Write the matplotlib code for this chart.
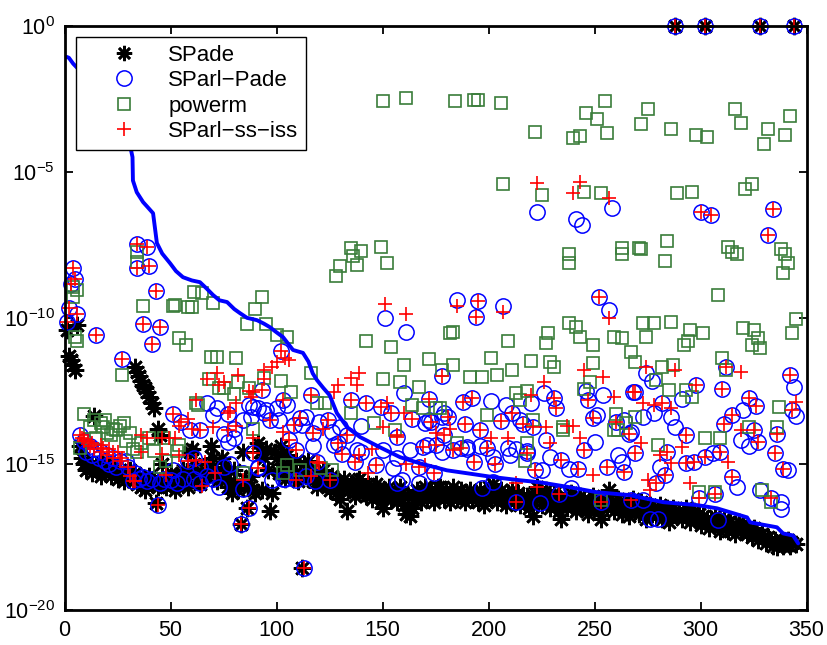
import numpy as np
import matplotlib
matplotlib.use("Agg")
import matplotlib.pyplot as plt
from matplotlib.ticker import NullLocator

plt.rcParams['font.family'] = ['Liberation Sans', 'DejaVu Sans']
plt.rcParams['mathtext.fontset'] = 'custom'
plt.rcParams['mathtext.rm'] = 'Liberation Sans'
plt.rcParams['mathtext.it'] = 'Liberation Sans:italic'
plt.rcParams['mathtext.default'] = 'regular'

# =========================
# DATA  (all values are log10 of the residual)
# =========================

# SPade, one value per index 1..345
spade_exp = [
    -10.4, -11.3, -11.45, -11.6, -11.8, -10.25, -14.4, -14.8, -15.0, -15.2,
    -14.9, -15.1, -15.3, -13.35, -15.0, -15.2, -15.4, -15.1, -15.3, -14.9,
    -15.2, -15.4, -15.0, -15.3, -15.5, -15.2, -15.4, -15.6, -15.3, -15.5,
    -15.2, -15.6, -15.3, -15.7, -15.4, -15.8, -15.5, -15.9, -15.6, -15.4,
    -15.7, -15.5, -16.35, -15.8, -14.0, -15.0, -15.6, -15.8, -15.5, -15.3,
    -15.6, -15.9, -15.4, -15.7, -15.5, -15.2, -15.6, -15.8, -14.6, -14.5,
    -15.0, -15.3, -15.6, -15.7, -15.4, -15.2, -15.4, -15.0, -14.4, -14.8,
    -15.3, -15.6, -15.4, -14.8, -15.1, -15.5, -15.8, -15.6, -16.0, -15.2,
    -15.7, -15.9, -17.07, -14.6, -15.5, -16.5, -15.8, -15.4, -15.9, -16.0,
    -14.3, -14.6, -15.9, -14.8, -14.5, -15.2, -16.6, -16.0, -14.6, -14.8,
    -15.3, -14.4, -15.0, -15.5, -14.7, -15.2, -15.0, -15.4, -14.9, -15.6,
    -15.3, -18.57, -15.0, -15.4, -14.9, -15.2, -15.6, -15.4, -15.8, -15.3,
    -15.6, -15.2, -15.7, -15.5, -15.9, -15.4, -15.8, -16.0, -15.6, -16.2,
    -15.8, -15.5, -16.6, -15.9, -15.7, -15.9, -16.1, -15.6, -15.5, -15.9,
    -16.0, -16.1, -15.7, -15.9, -16.2, -15.8, -15.7, -16.1, -16.3, -16.5,
    -15.9, -16.0, -15.8, -16.2, -16.1, -15.9, -16.3, -15.8, -16.0, -16.4,
    -16.7, -16.1, -16.8, -16.5, -16.2, -15.9, -16.0, -16.3, -16.1, -15.8,
    -16.2, -16.0, -15.9, -16.3, -16.1, -15.8, -15.8, -16.0, -16.2, -15.9,
    -16.1, -16.3, -15.8, -16.0, -16.2, -16.1, -15.9, -16.0, -16.3, -16.1,
    -15.9, -16.2, -16.0, -16.0, -16.3, -15.9, -16.1, -16.4, -16.0, -15.8,
    -16.2, -15.7, -16.0, -16.3, -16.1, -15.9, -16.2, -16.4, -16.0, -16.1,
    -15.9, -16.3, -16.2, -16.0, -16.4, -16.1, -16.3, -16.1, -16.5, -16.2,
    -16.8, -16.0, -15.8, -16.2, -16.4, -16.1, -15.9, -16.3, -16.5, -16.2,
    -16.0, -16.4, -16.6, -16.9, -16.3, -16.1, -16.5, -16.2, -16.0, -16.4,
    -16.6, -16.3, -16.1, -16.5, -16.2, -16.4, -16.7, -16.3, -16.1, -16.5,
    -16.3, -16.6, -16.9, -16.4, -16.2, -16.5, -15.9, -16.3, -16.6, -16.4,
    -16.2, -16.5, -16.7, -16.3, -16.4, -16.8, -16.5, -16.2, -16.6, -16.4,
    -16.7, -16.3, -16.5, -16.9, -16.6, -16.4, -16.7, -16.5, -16.8, -16.6,
    -16.4, -16.9, -16.6, -16.5, -17.0, -16.7, -16.5, 0.0, -16.8, -16.6,
    -16.9, -16.7, -16.5, -16.8, -17.0, -16.7, -16.6, -16.9, -16.7, -17.1,
    -16.8, 0.0, -16.9, -17.2, -16.9, -17.0, -16.8, -17.1, -17.3, -17.0,
    -16.9, -17.2, -17.3, -17.0, -17.1, -17.4, -17.2, -17.0, -17.3, -17.1,
    -17.2, -17.4, -17.3, -17.5, -17.2, -17.4, -17.6, 0.0, -17.4, -17.5,
    -17.7, -17.5, -17.6, -17.8, -17.6, -17.85, -17.7, -17.6, -17.8, -17.7,
    -17.6, -17.8, -17.7, 0.0, -17.75,
]

# second SPade branch (upper streak)
spade_streak = [(33, -11.7), (34, -11.85), (35, -12.0), (36, -12.15), (37, -12.3),
                (38, -12.4), (39, -12.55), (40, -12.7), (41, -12.9), (42, -13.1),
                (44, -13.8)]

# points where SParl-Pade and SParl-ss-iss coincide
shared_pts = [
    (288, 0), (302, 0), (328, 0), (344, 0),
    (1, -10.15), (2, -9.67), (3, -8.85), (4, -8.3), (5, -8.68), (6, -9.88),
    (15, -10.6), (27, -11.4), (34, -7.48), (39, -7.58), (34, -8.3), (40, -8.23),
    (43, -9.07), (37, -10.2), (45, -10.3), (41, -10.9),
    (44, -16.4), (83, -17.07), (87, -16.5), (113, -18.57),
    (7, -14.0), (9, -14.2), (12, -14.4), (14, -14.5), (17, -14.6), (20, -14.7),
    (23, -14.8), (26, -14.9), (30, -15.1), (32, -15.6), (51, -13.3), (55, -13.55),
    (64, -13.85), (89, -14.64), (91, -15.15),
    (102, -11.14), (178, -12.0), (93, -12.48), (103, -12.82), (116, -12.65),
    (97, -13.5), (108, -13.68), (111, -13.44), (135, -12.82), (142, -12.9),
    (149, -13.06), (154, -13.27), (172, -12.79), (164, -13.47), (173, -13.56),
    (117, -13.95), (124, -13.5), (133, -14.02), (129, -14.3), (131, -14.65),
    (106, -14.19), (109, -14.53), (109, -15.55), (125, -15.55), (119, -14.93),
    (137, -14.93), (147, -15.04), (174, -15.3), (167, -15.1), (157, -14.07),
    (169, -14.42), (175, -14.36), (183, -14.53), (213, -16.3),
    (195, -9.42), (194, -9.96), (252, -9.3), (300, -6.38), (305, -6.48),
    (334, -6.28), (332, -7.17),
    (188, -12.87), (192, -12.76), (181, -13.39), (189, -13.64), (196, -13.85),
    (206, -13.53), (211, -13.27), (216, -13.62), (221, -13.75), (231, -12.73),
    (232, -13.07), (247, -12.82), (249, -13.44), (260, -13.56), (268, -12.53),
    (266, -13.96), (179, -14.02), (187, -14.47), (199, -14.47), (203, -15.0),
    (193, -14.93), (218, -14.62), (222, -15.22), (234, -14.87), (242, -15.19),
    (245, -14.53), (256, -15.1), (264, -15.27), (233, -16.04), (253, -16.3),
    (267, -16.24),
    (312, -11.68), (342, -11.94), (269, -12.53), (298, -12.3), (310, -12.45),
    (323, -12.76), (326, -13.02), (315, -13.33), (311, -13.62), (343, -13.14),
    (282, -12.91), (293, -14.02), (325, -13.85), (327, -14.25), (336, -13.96),
    (269, -14.64), (284, -14.59), (283, -15.39), (279, -15.67), (293, -14.98),
    (297, -14.93), (302, -14.76), (309, -14.59), (315, -15.44), (335, -14.64),
    (339, -15.16), (299, -16.18), (307, -16.04), (333, -16.18),
]

# SParl-Pade only
pade_pts = [
    (223, -6.39), (241, -6.62), (244, -6.83), (258, -6.25), (151, -10.0),
    (161, -10.5), (185, -9.4), (207, -9.6), (257, -9.74),
    (10, -14.6), (13, -14.7), (16, -14.8), (19, -14.9), (21, -15.0), (24, -15.1),
    (29, -14.9), (33, -15.3), (35, -15.5), (37, -15.45), (39, -15.6), (41, -15.5),
    (45, -15.66), (47, -15.5), (50, -15.55), (51, -15.2), (53, -15.66), (56, -15.5),
    (58, -14.9), (61, -14.8), (61, -15.5), (64, -15.1), (64, -15.66), (67, -15.4),
    (70, -15.5), (73, -15.8), (75, -15.1), (78, -15.0), (80, -14.1), (84, -15.3),
    (84, -15.85), (91, -15.1), (98, -15.56),
    (59, -13.85), (67, -12.9), (70, -13.33), (72, -13.1), (77, -13.3), (84, -13.5),
    (80, -13.8), (89, -13.06), (88, -13.4), (75, -13.96), (77, -14.25), (87, -13.0),
    (91, -13.1), (95, -13.16), (100, -13.1), (105, -13.0), (101, -13.5),
    (114, -13.39), (94, -13.27), (112, -13.67), (120, -13.56),
    (160, -12.57), (170, -13.6), (178, -13.4), (126, -13.9), (130, -13.73),
    (140, -13.71), (104, -15.5), (114, -15.43), (118, -15.6), (140, -14.6),
    (155, -15.15), (159, -15.55), (167, -15.66), (150, -14.53), (163, -14.53),
    (178, -14.59), (117, -14.4), (127, -14.36), (138, -14.53), (157, -14.8),
    (157, -15.66), (171, -14.36), (190, -14.5), (196, -14.4), (202, -14.77),
    (213, -14.5), (218, -14.55), (103, -15.5), (197, -15.84), (172, -13.5),
    (179, -13.27), (215, -13.5),
    (201, -12.84), (208, -12.99), (220, -12.91), (226, -12.57), (246, -12.5),
    (254, -12.65), (251, -13.33), (264, -13.5), (190, -14.42), (209, -14.47),
    (210, -14.7), (225, -15.22), (227, -14.19), (229, -14.76), (238, -15.16),
    (250, -14.25), (261, -14.7), (263, -14.93), (202, -15.62), (224, -16.34),
    (239, -15.84),
    (344, -12.36), (274, -11.9), (277, -12.17), (320, -13.14), (345, -13.37),
    (273, -13.39), (278, -13.27), (286, -13.39), (288, -13.73), (291, -12.79),
    (319, -14.19), (323, -14.39), (267, -13.9), (281, -15.1), (306, -14.64),
    (317, -15.79), (341, -15.22), (328, -15.9), (338, -16.3), (338, -16.53),
    (276, -16.87), (280, -16.9), (308, -16.93), (273, -16.24),
]

# SParl-ss-iss only
iss_pts = [
    (223, -5.4), (240, -5.73), (243, -5.35), (257, -5.9), (151, -9.54),
    (161, -9.88), (185, -9.6), (207, -9.8), (257, -10.0),
    (8, -14.1), (9, -14.15), (11, -14.2), (13, -14.3), (17, -14.36), (18, -14.46),
    (21, -14.5), (23, -14.6), (25, -14.6), (27, -14.8), (31, -15.4), (33, -15.6),
    (36, -14.0), (39, -14.1), (46, -14.1), (49, -14.1), (52, -14.1), (36, -14.6),
    (46, -14.65), (54, -14.7), (48, -15.38), (58, -14.9), (62, -14.88),
    (66, -14.95), (65, -15.74), (71, -15.3), (84, -15.56),
    (67, -12.1), (72, -11.9), (82, -11.96), (75, -12.2), (87, -12.5), (62, -12.8),
    (81, -12.9), (77, -13.26), (73, -12.3), (88, -12.7), (54, -13.7), (58, -13.45),
    (60, -13.8), (70, -13.75), (77, -13.85), (81, -13.7), (78, -13.2), (89, -14.1),
    (94, -11.79), (100, -11.5), (104, -11.38), (106, -11.45), (98, -11.7),
    (139, -11.9), (135, -12.07), (138, -12.3), (129, -12.3), (127, -12.54),
    (89, -12.54), (94, -12.1), (152, -12.93), (160, -13.25), (150, -13.73),
    (157, -14.02), (175, -13.95), (122, -13.8), (103, -13.9), (120, -14.98),
    (116, -15.4), (143, -15.32), (139, -14.7), (170, -15.05), (145, -14.5),
    (161, -15.0), (182, -13.79),
    (226, -12.19), (245, -11.79), (254, -12.02), (259, -12.7), (220, -12.65),
    (227, -13.73), (237, -13.71), (240, -13.71), (243, -14.13), (229, -14.28),
    (249, -15.39), (223, -15.79), (213, -15.67), (201, -14.13), (209, -14.13),
    (288, -11.79), (319, -11.85), (274, -11.68), (273, -12.93), (278, -12.99),
    (286, -13.1), (345, -12.88), (319, -13.85), (272, -14.3), (281, -14.7),
    (291, -14.42), (286, -14.98), (313, -14.93), (275, -15.56), (295, -15.67),
    (276, -15.9),
]

# powerm
powerm_pts = [
    (150, -2.58), (161, -2.48), (184, -2.58), (193, -2.55), (195, -2.53),
    (206, -2.65), (222, -3.64), (240, -3.85), (243, -3.78), (246, -3.0),
    (251, -3.2), (255, -2.58), (256, -3.69), (272, -3.37), (275, -2.86),
    (286, -3.53), (298, -3.74), (303, -3.8), (316, -2.85), (319, -3.34),
    (330, -4.05), (332, -3.53), (340, -3.75), (342, -3.1),
    (207, -5.43), (225, -5.8), (245, -5.7), (253, -5.73), (289, -5.73),
    (296, -5.7), (321, -5.6), (324, -5.43),
    (135, -7.62), (140, -7.72), (136, -7.9), (149, -7.58), (130, -8.23),
    (138, -8.2), (128, -8.58), (152, -8.13), (238, -7.8), (238, -8.14),
    (263, -7.62), (263, -7.8), (271, -7.62), (272, -7.65), (284, -7.38),
    (283, -8.06), (313, -7.58), (315, -7.75), (317, -7.82), (338, -7.65),
    (340, -7.82), (341, -8.14), (339, -8.48), (308, -9.23), (345, -10.05),
    (343, -10.53),
    (34, -7.75), (34, -8.1), (4, -8.95), (6, -9.05), (4, -9.3), (5, -10.67),
    (6, -10.8), (37, -9.6), (51, -9.6), (52, -9.57), (58, -9.63), (61, -9.12),
    (65, -9.16), (70, -9.5), (60, -9.63), (54, -10.7), (57, -10.93), (69, -11.35),
    (72, -11.35), (81, -11.38), (27, -11.96), (93, -9.3), (90, -9.7), (86, -10.2),
    (95, -10.2), (100, -10.6), (105, -10.66),
    (142, -10.8), (154, -11.0), (183, -10.5), (172, -11.4), (160, -11.6),
    (150, -12.1), (158, -12.2), (167, -12.37), (183, -11.6), (116, -11.9),
    (94, -12.07), (102, -12.17), (68, -12.1), (73, -12.4), (82, -12.2),
    (75, -12.4), (63, -13.0), (107, -12.53), (87, -12.4), (119, -12.93),
    (123, -12.93), (164, -13.0), (169, -13.1), (175, -13.07), (89, -13.8),
    (135, -13.27), (146, -13.6), (156, -13.84), (105, -15.04), (111, -15.2),
    (126, -15.2), (121, -15.15), (103, -15.3), (62, -12.93), (80, -12.6),
    (9, -13.3), (14, -13.5), (19, -13.5), (28, -13.6), (24, -13.85), (31, -13.95),
    (20, -13.95), (12, -13.75), (18, -13.75), (7, -14.46), (34, -14.6),
    (42, -14.55), (47, -14.1), (53, -14.55), (45, -15.1), (17, -13.6),
    (23, -13.8), (36, -14.3), (32, -14.5), (48, -14.9), (54, -14.36),
    (84, -15.3), (26, -13.7), (22, -14.0), (29, -14.2), (40, -14.1), (15, -14.1),
    (182, -10.53), (209, -10.79), (201, -11.39), (220, -11.47), (228, -10.53),
    (227, -10.85), (238, -10.19), (241, -10.3), (243, -10.65), (249, -10.93),
    (259, -10.67), (263, -10.7), (267, -11.16), (249, -11.56), (229, -11.5),
    (231, -11.68), (211, -11.79), (204, -11.96), (197, -12.02), (191, -12.04),
    (178, -11.8), (213, -12.59), (218, -12.5), (215, -12.8), (199, -13.33),
    (221, -13.5), (177, -13.1), (185, -14.3), (235, -13.73), (245, -12.42),
    (260, -13.3), (259, -13.85), (218, -14.3), (217, -14.9), (235, -13.85),
    (265, -13.6), (261, -13.85), (248, -12.2),
    (273, -10.19), (278, -10.19), (286, -10.13), (295, -10.42), (301, -10.53),
    (294, -10.79), (292, -10.93), (274, -10.65), (320, -10.36), (325, -10.4),
    (324, -10.93), (328, -11.05), (327, -10.7), (269, -11.5), (282, -11.68),
    (287, -11.62), (310, -11.39), (312, -11.79), (279, -12.13), (285, -12.48),
    (293, -12.48), (296, -12.7), (337, -13.05), (323, -13.73), (336, -13.73),
    (280, -14.36), (302, -14.13), (309, -14.13), (269, -13.4), (299, -15.96),
    (307, -15.96), (329, -15.9), (333, -16.3), (253, -16.24),
]

# sorted reference curve (vertices of the blue line)
curve_x = [1, 2, 3, 4, 8, 14, 20, 26, 30, 32, 32.2, 34, 37, 39, 41.7, 43.5, 46,
           49.7, 52.5, 55.8, 60, 63.8, 67, 70, 73, 76.6, 80, 82.7, 86, 90.7, 94,
           96.8, 100, 103, 107.7, 112.4, 115, 117, 119, 122, 125, 128.4, 133.2,
           139.3, 148.7, 158.2, 167.6, 180.3, 189.8, 202, 214.8, 224.2, 238.4,
           251.1, 266.7, 282.3, 298.3, 307.7, 321.9, 323.3, 336, 338.9, 343.6, 346]
curve_exp = [-1.07, -1.1, -1.2, -1.3, -1.6, -2.1, -2.6, -3.2, -3.8, -4.5, -5.3,
             -5.7, -6.04, -6.2, -6.42, -7.44, -7.8, -8.13, -8.4, -8.61, -8.72,
             -8.78, -9.0, -9.22, -9.4, -9.46, -9.7, -9.84, -10.0, -10.08, -10.2,
             -10.32, -10.5, -10.66, -11.1, -11.2, -11.5, -11.9, -12.13, -12.4,
             -12.65, -13.26, -13.74, -14.08, -14.43, -14.77, -14.98, -15.22,
             -15.32, -15.45, -15.56, -15.63, -15.8, -15.97, -16.07, -16.31,
             -16.41, -16.52, -16.83, -17.0, -17.17, -17.38, -17.45, -17.72]


def to_xy(*groups):
    arr = np.array([p for g in groups for p in g], dtype=float)
    return arr[:, 0], 10.0 ** arr[:, 1]


# =========================
# PLOT
# =========================

fig = plt.figure(figsize=(8.28, 6.45), dpi=100)
ax = fig.add_axes([0.0781, 0.0543, 0.8961, 0.9059])
ax.set_yscale('log')

asterisk = (8, 2, 0)
idx = np.arange(1, len(spade_exp) + 1)

ax.plot(idx, 10.0 ** np.array(spade_exp), ls='none', marker=asterisk, ms=12.5,
        mew=1.9, color='k', label='SPade', clip_on=False)
sx, sy = to_xy(spade_streak)
ax.plot(sx, sy, ls='none', marker=asterisk, ms=12.5, mew=1.9, color='k',
        clip_on=False)

px, py = to_xy(shared_pts, pade_pts)
ax.plot(px, py, ls='none', marker='o', ms=11, mfc='none', mec='#0000ff',
        mew=1.1, label='SParl\u2212Pade', clip_on=False)

gx, gy = to_xy(powerm_pts)
ax.plot(gx, gy, ls='none', marker='s', ms=8.2, mfc='none', mec='#3a7d3a',
        mew=1.2, label='powerm', clip_on=False)

rx, ry = to_xy(shared_pts, iss_pts)
ax.plot(rx, ry, ls='none', marker='+', ms=10.5, color='#ff0000', mew=1.2,
        label='SParl\u2212ss\u2212iss', clip_on=False)

ax.plot(curve_x, 10.0 ** np.array(curve_exp), color='#0000ff', lw=2.8,
        solid_joinstyle='round', solid_capstyle='round')

ax.set_xlim(0, 350)
ax.set_ylim(1e-20, 1)
ax.set_xticks(range(0, 351, 50))
ax.set_yticks([1e-20, 1e-15, 1e-10, 1e-5, 1])
ax.yaxis.set_minor_locator(NullLocator())
ax.tick_params(direction='in', length=6, width=1.3, top=True, right=True,
               labelsize=15.5, pad=7)
for sp in ax.spines.values():
    sp.set_linewidth(2.0)

leg = ax.legend(loc='upper left', bbox_to_anchor=(0.0152, 0.9807),
                borderaxespad=0, frameon=True, fancybox=False, edgecolor='k',
                framealpha=1, fontsize=16, numpoints=1, handlelength=3.6,
                handletextpad=0.2, labelspacing=0.2, borderpad=0.35)
leg.get_frame().set_linewidth(1.0)
for h in leg.legend_handles[:1]:
    h.set_markersize(11)

fig.savefig('out.png', dpi=100)
